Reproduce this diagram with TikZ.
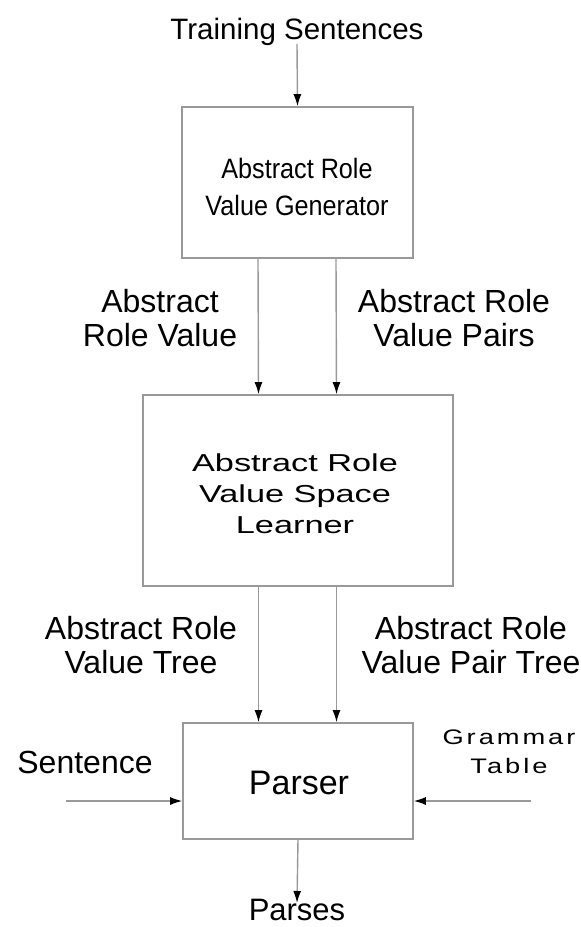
\documentclass[tikz,border=0pt]{standalone}
\usepackage{fontspec}
\setmainfont{Liberation Sans}
\newfontfamily\narrowfont[FakeStretch=0.9]{Liberation Sans}
\newfontfamily\widefont[FakeStretch=1.4]{Liberation Sans}
\newfontfamily\spacedfont[FakeStretch=1.3,LetterSpace=14]{Liberation Sans}
\usetikzlibrary{arrows.meta,positioning}

\begin{document}
\begin{tikzpicture}[x=1pt,y=-1pt,
		block/.style={draw=black!40,line width=1.6pt,inner sep=0pt},
		flow/.style={draw=black!40,line width=1.4pt,-{Latex[length=12pt,width=8pt,color=black]}},
		lbl/.style={align=center,inner sep=0pt,font=\fontsize{32}{34}\selectfont}]
	\useasboundingbox (0,0) rectangle (581,927);

	% boxes
	\node[block,minimum width=231pt,minimum height=151pt] (gen) at (297.5,182.5) {};
	\node[align=center,font=\narrowfont\fontsize{28}{37}\selectfont] (gentxt) at (297,187) {Abstract Role\\Value Generator};
	\node[block,minimum width=310pt,minimum height=191pt] (learn) at (298,490.5) {};
	\node[align=center,font=\widefont\fontsize{24.5}{31}\selectfont] (learntxt) at (295,494) {Abstract Role\\Value Space\\Learner};
	\node[block,minimum width=230pt,minimum height=116pt] (parser) at (298,781) {};
	\node[font=\fontsize{34}{36}\selectfont] (parsertxt) at (299,783) {Parser};

	% inputs and outputs
	\node[inner sep=0pt,font=\fontsize{29.5}{32}\selectfont] (train) at (297,32) {Training Sentences};
	\node[inner sep=0pt,font=\fontsize{31}{33}\selectfont] (parses) at (297,910) {Parses};
	\node[lbl] (sent) at (85,762) {Sentence};
	\node[align=center,inner sep=0pt,font=\spacedfont\fontsize{21}{29}\selectfont] (gram) at (509,752) {Grammar\\Table};
	\coordinate (sentin) at (66,801);
	\coordinate (gramin) at (531,801);

	% edge labels
	\node[lbl] (arv) at (160,318) {Abstract\\Role Value};
	\node[lbl] (arvp) at (454,318) {Abstract Role\\Value Pairs};
	\node[lbl] (arvt) at (141,645) {Abstract Role\\Value Tree};
	\node[lbl] (arvpt) at (471,645) {Abstract Role\\Value Pair Tree};

	% connectors
	\draw[flow] ([yshift=2pt]train.south) -- (gen.north);
	\foreach \dx in {-39.5,38.5}{
		\draw[flow] ([xshift=\dx pt]gen.south) -- ([xshift=\dx pt]learn.north);
		\draw[flow] ([xshift=\dx pt]learn.south) -- ([xshift=\dx pt]parser.north);
	}
	\draw[flow] (sentin) -- (parser.west |- sentin);
	\draw[flow] (gramin) -- (parser.east |- gramin);
	\draw[flow] (parser.south) -- ([yshift=-4pt]parses.north);
\end{tikzpicture}
\end{document}
